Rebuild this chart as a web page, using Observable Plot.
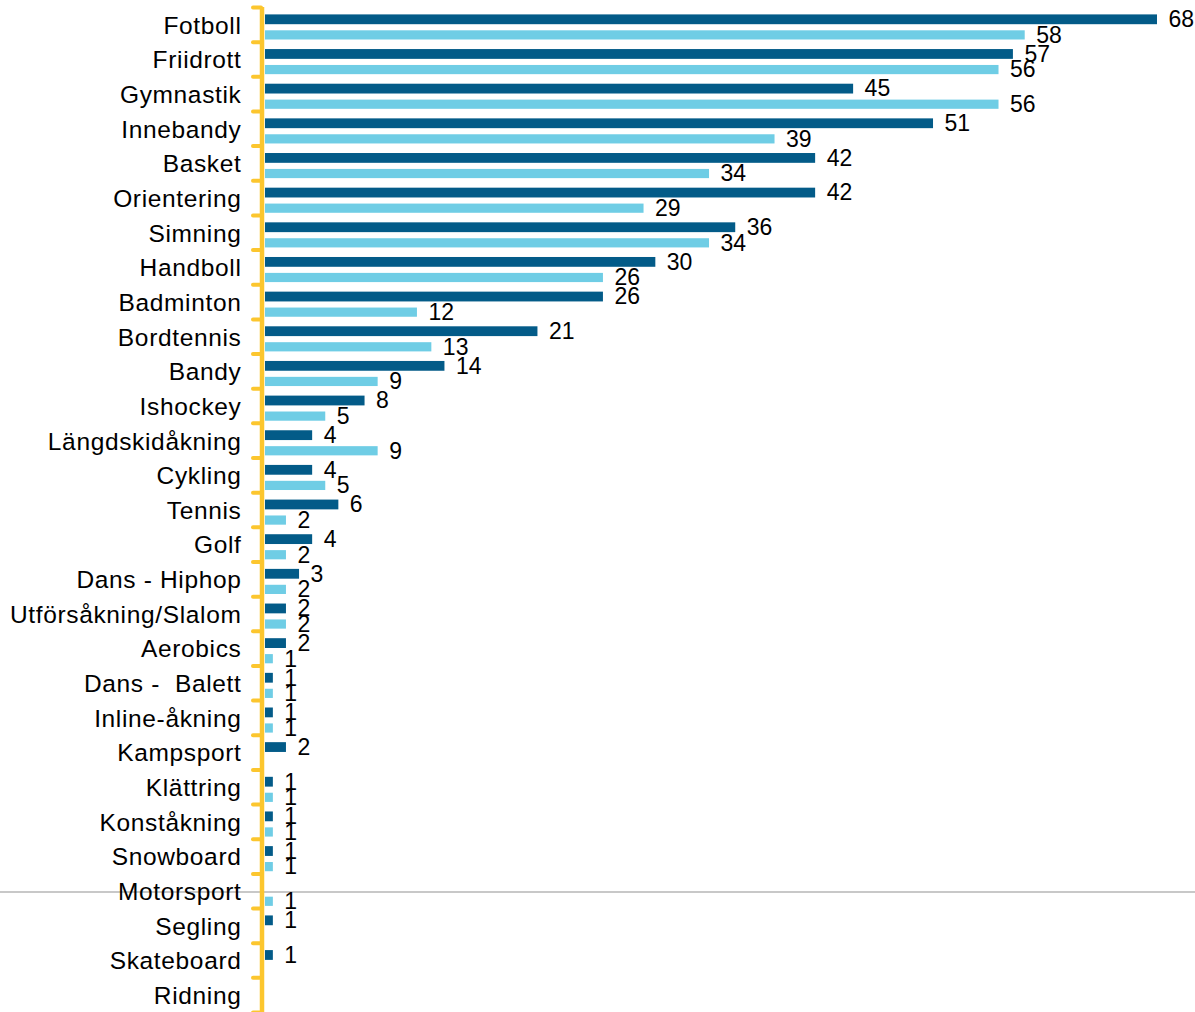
<!DOCTYPE html>
<html>
<head>
<meta charset="utf-8">
<script src="https://cdn.jsdelivr.net/npm/d3@7"></script>
<script src="https://cdn.jsdelivr.net/npm/@observablehq/plot@0.6"></script>
<style>
html, body { margin: 0; padding: 0; background: #fff; overflow: hidden; }
#wrap { position: relative; width: 1195px; height: 1012px; }
#gridline { position: absolute; left: 0; top: 891px; width: 1195px; height: 2px; background: #c8c8c8; }
#chart { position: absolute; left: 0; top: 0; }
#chart svg text { white-space: pre; }
#chart svg g[aria-label="y-axis tick label"] text { letter-spacing: 0.65px; }
</style>
</head>
<body>
<div id="wrap"><div id="gridline"></div><div id="chart"></div></div>
<script>
const categories = [
  "Fotboll", "Friidrott", "Gymnastik", "Innebandy", "Basket", "Orientering",
  "Simning", "Handboll", "Badminton", "Bordtennis", "Bandy", "Ishockey",
  "Längdskidåkning", "Cykling", "Tennis", "Golf", "Dans - Hiphop",
  "Utförsåkning/Slalom", "Aerobics", "Dans -  Balett", "Inline-åkning",
  "Kampsport", "Klättring", "Konståkning", "Snowboard", "Motorsport",
  "Segling", "Skateboard", "Ridning"
];
// dark series (first bar of each pair)
const darkValues = [
  68.1, 57.1, 44.9, 51.0, 42.0, 42.0,
  35.9, 29.8, 25.8, 20.8, 13.7, 7.6,
  3.6, 3.6, 5.6, 3.6, 2.6,
  1.6, 1.6, 0.6, 0.6,
  1.6, 0.6, 0.6, 0.6, null,
  0.6, 0.6, null
];
// light series (second bar of each pair)
const lightValues = [
  58.0, 56.0, 56.0, 38.9, 33.9, 28.9,
  33.9, 25.8, 11.6, 12.7, 8.6, 4.6,
  8.6, 4.6, 1.6, 1.6, 1.6,
  1.6, 0.6, 0.6, 0.6,
  null, 0.6, 0.6, 0.6, 0.6,
  null, null, null
];

const darkColor = "#035b88";
const lightColor = "#6fcde5";
const yellow = "#fcc62e";

const darkData = categories.map((c, i) => ({category: c, value: darkValues[i]})).filter(d => d.value != null);
const lightData = categories.map((c, i) => ({category: c, value: lightValues[i]})).filter(d => d.value != null);

const H = 1012, top0 = 7;
const bw = (H - top0) / categories.length;

const chart = Plot.plot({
  width: 1195,
  height: H,
  marginLeft: 265,
  marginRight: 38,
  marginTop: top0,
  marginBottom: 0,
  style: {background: "transparent", fontFamily: "'Liberation Sans', Arial, sans-serif", color: "#000"},
  x: {domain: [0, 68.1], axis: null},
  y: {domain: categories, padding: 0, round: false, axis: null},
  marks: [
    Plot.barX(darkData, {x: "value", y: "category", fill: darkColor, insetTop: 7.4, insetBottom: bw - 17.2}),
    Plot.barX(lightData, {x: "value", y: "category", fill: lightColor, insetTop: 23.3, insetBottom: bw - 32.5}),
    Plot.text(darkData, {x: "value", y: "category", text: d => String(Math.round(d.value)), dx: 11, dy: 12.3 - bw / 2, textAnchor: "start", fontSize: 23, fill: "#000"}),
    Plot.text(lightData, {x: "value", y: "category", text: d => String(Math.round(d.value)), dx: 11, dy: 27.9 - bw / 2, textAnchor: "start", fontSize: 23, fill: "#000"}),
    Plot.ruleX([0], {stroke: yellow, strokeWidth: 4.5, dx: -3.5}),
    Plot.axisY({label: null, tickSize: 8, tickFormat: () => "", stroke: yellow, strokeWidth: 4, strokeLinecap: "round", dx: -4, dy: -bw / 2}),
    Plot.axisY({label: null, ticks: [categories[categories.length - 1]], tickSize: 8, tickFormat: () => "", stroke: yellow, strokeWidth: 4, strokeLinecap: "round", dx: -4, dy: bw / 2}),
    Plot.axisY({label: null, tickSize: 0, tickPadding: 24, fontSize: 24.5, fill: "#000", dy: 1})
  ]
});
document.getElementById("chart").appendChild(chart);
</script>
</body>
</html>
